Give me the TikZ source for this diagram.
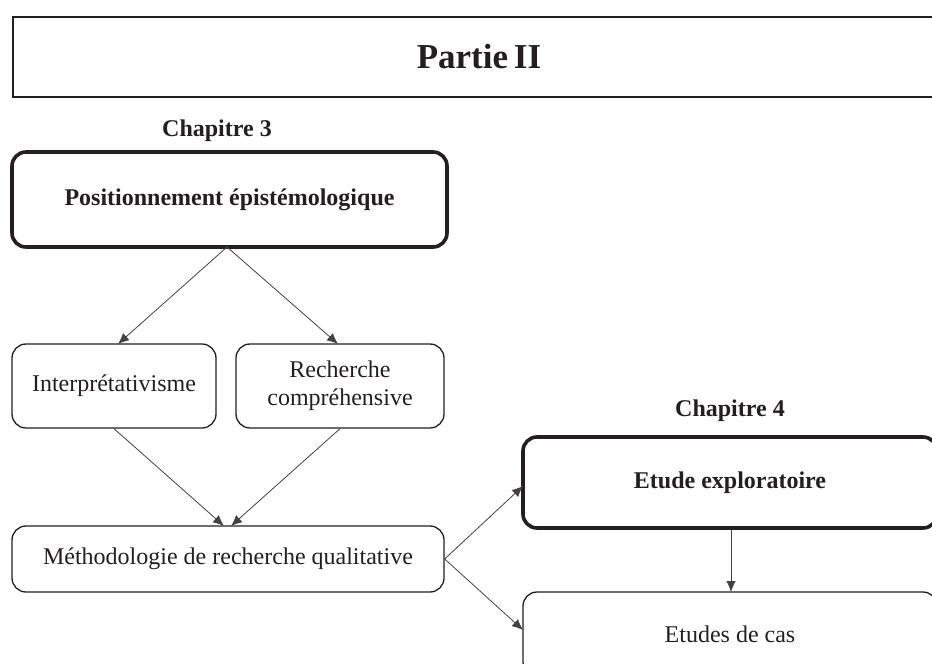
\documentclass[tikz,border=0pt]{standalone}
\usepackage{fontspec}
\setmainfont{Liberation Serif}
\usetikzlibrary{arrows.meta}
\definecolor{ink}{HTML}{231F20}
\tikzset{
  x=1pt, y=-1pt,
  every node/.style={text=ink},
  box/.style={draw=ink, line width=1.3pt, rounded corners=14pt, inner sep=0pt,
    font=\fontsize{24}{28}\selectfont, align=center},
  thickbox/.style={box, line width=3.6pt, font=\fontsize{24}{28}\selectfont\bfseries},
  chap/.style={anchor=base, font=\fontsize{24}{28}\selectfont\bfseries},
  conn/.style={draw=ink!85, line width=0.8pt, -{Latex[length=11pt,width=9.5pt]}}
}
\begin{document}
\begin{tikzpicture}
\useasboundingbox (0,0) rectangle (932,664);
\clip (0,0) rectangle (932,664);
% Partie II banner
\node[draw=ink, line width=1.5pt, minimum width=960pt, minimum height=80pt, anchor=north west, inner sep=0pt] (banner) at (12,16) {};
\node[anchor=base, font=\fontsize{35}{40}\selectfont\bfseries] (partie) at (479,68) {Partie\,II};
% Chapitre 3
\node[chap] (ch3) at (217,136) {Chapitre 3};
\node[thickbox, minimum width=435pt, minimum height=95pt] (pos) at (229.5,199.5) {Positionnement épistémologique};
\node[box, minimum width=204pt, minimum height=84pt] (interp) at (114,386) {Interprétativisme};
\node[box, minimum width=208pt, minimum height=84pt] (rech) at (340,386) {Recherche\\compréhensive};
\node[box, minimum width=432pt, minimum height=66pt] (meth) at (228,559) {Méthodologie de recherche qualitative};
% Chapitre 4
\node[chap] (ch4) at (730,416) {Chapitre 4};
\node[thickbox, minimum width=414pt, minimum height=91pt] (expl) at (730,482.5) {Etude exploratoire};
\node[box, minimum width=414pt, minimum height=84pt] (cas) at (730,634) {Etudes de cas};
% connectors
\coordinate (posb) at (227,247);
\draw[conn] (posb) -- (118,344);
\draw[conn] (posb) -- (338,344);
\draw[conn] (interp.south) -- (224,526);
\draw[conn] (rech.south) -- (231,526);
\draw[conn] (meth.east) -- (523,486);
\draw[conn] (meth.east) -- (523,630);
\draw[conn] (expl.south -| 731,0) -- (731,592);
\end{tikzpicture}
\end{document}
